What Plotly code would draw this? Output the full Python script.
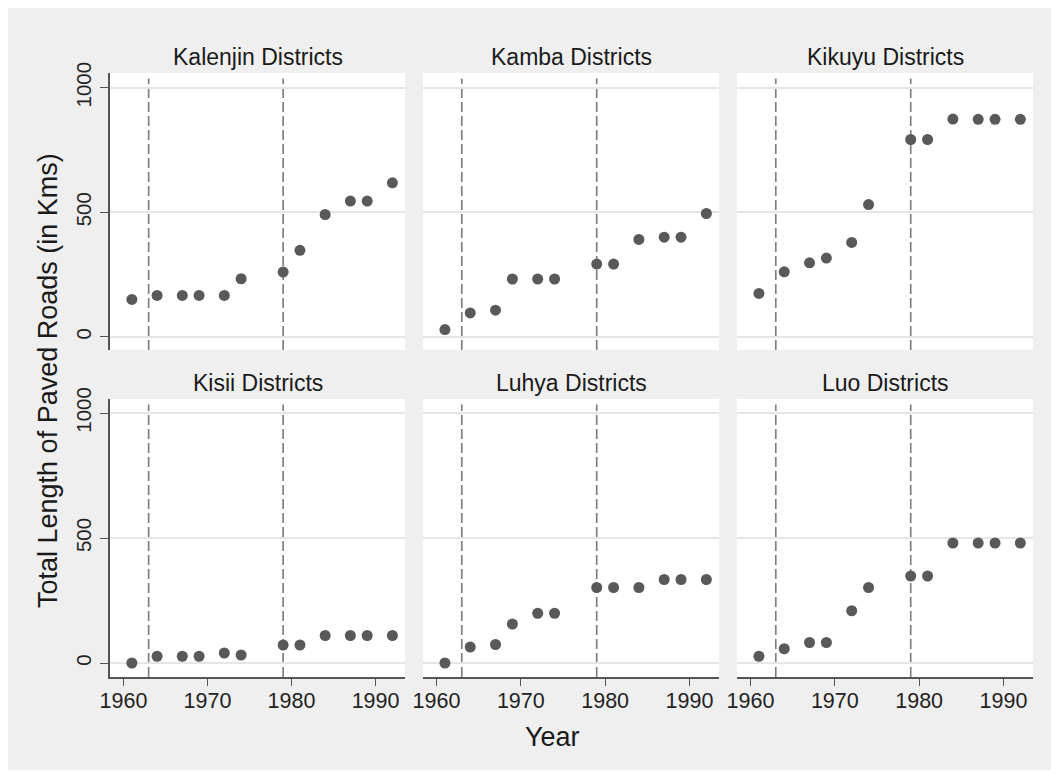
import plotly.graph_objects as go

years = [1961, 1964, 1967, 1969, 1972, 1974, 1979, 1981, 1984, 1987, 1989, 1992]
break_years = [1963, 1979]

groups = ["Kalenjin Districts", "Kamba Districts", "Kikuyu Districts",
          "Kisii Districts", "Luhya Districts", "Luo Districts"]

kalenjin = [150, 166, 166, 166, 166, 233, 260, 347, 491, 545, 545, 618]
kamba = [29, 96, 107, 232, 232, 232, 292, 292, 391, 400, 400, 495]
kikuyu = [174, 261, 297, 316, 379, 531, 792, 792, 874, 873, 873, 873]
kisii = [0, 27, 27, 27, 40, 32, 72, 72, 110, 110, 110, 110]
luhya = [0, 64, 74, 156, 199, 199, 302, 302, 302, 334, 334, 334]
luo = [27, 57, 82, 82, 209, 302, 348, 348, 480, 480, 480, 480]

series = [kalenjin, kamba, kikuyu, kisii, luhya, luo]

x_ticks = [1960, 1970, 1980, 1990]
y_ticks = [0, 500, 1000]

FONT = "Liberation Sans, Arial, sans-serif"
OFF = 8  # page body margin
W, H = 1051, 762
# screen-space layout (reference pixels), converted by subtracting OFF
col_px = [(110, 405), (423, 719), (737, 1033)]
row_px = [(73, 350), (399, 677)]
ML = col_px[0][0] - OFF
MR = W - (col_px[2][1] - OFF)
MT = row_px[0][0] - OFF
MB = H - (row_px[1][1] - OFF)
PW, PH = W - ML - MR, H - MT - MB


def px_x(sx):
    return (sx - OFF - ML) / PW


def px_y(sy):
    return (H - MB - (sy - OFF)) / PH


fig = go.Figure()
layout = {}
for i, (name, vals) in enumerate(zip(groups, series)):
    r, c = divmod(i, 3)
    n = i + 1
    xa = "x" if n == 1 else f"x{n}"
    ya = "y" if n == 1 else f"y{n}"
    fig.add_trace(go.Scatter(
        x=years, y=vals, mode="markers", xaxis=xa, yaxis=ya,
        marker=dict(size=11, color="#595959"), showlegend=False,
        hoverinfo="x+y"))
    xkey = "xaxis" if n == 1 else f"xaxis{n}"
    ykey = "yaxis" if n == 1 else f"yaxis{n}"
    bottom = r == 1
    left = c == 0
    layout[xkey] = dict(
        domain=[px_x(col_px[c][0]), px_x(col_px[c][1])], anchor=ya,
        range=[1958.4, 1993.5],
        tickvals=x_ticks, showgrid=False, zeroline=False,
        showticklabels=bottom, ticks="outside" if bottom else "",
        ticklen=7, tickwidth=1.3, tickcolor="#555555",
        showline=bottom, linecolor="#555555", linewidth=1.5,
        tickfont=dict(size=21.5, color="#222222", family=FONT),
        ticklabelstandoff=-4)
    yr = [-53, 1059] if r == 0 else [-56, 1056]
    layout[ykey] = dict(
        domain=[px_y(row_px[r][1]), px_y(row_px[r][0])], anchor=xa, range=yr,
        tickvals=y_ticks, showgrid=True, gridcolor="#e6e6e6", gridwidth=1.5,
        zeroline=False, showticklabels=left,
        ticks="outside" if left else "", ticklen=8, tickwidth=1.3,
        tickcolor="#555555", showline=left, linecolor="#555555",
        linewidth=1.5, tickangle=-90,
        tickfont=dict(size=20.5, color="#222222", family=FONT),
        ticklabelstandoff=1)
    for by in break_years:
        fig.add_shape(type="line", xref=xa, yref=f"{ya} domain",
                      x0=by, x1=by, y0=0, y1=0.98, layer="below",
                      line=dict(color="#808080", width=1.7, dash="10px,4px"))
    title_y = 57 if r == 0 else 383
    cx = px_x(sum(col_px[c]) / 2)
    fig.add_annotation(text=name, x=cx, y=px_y(title_y),
                       xref="paper", yref="paper", showarrow=False,
                       xanchor="center", yanchor="middle",
                       font=dict(size=23, color="#1a1a1a", family=FONT))

fig.add_annotation(text="Total Length of Paved Roads (in Kms)",
                   x=px_x(48), y=px_y(381),
                   xref="paper", yref="paper", showarrow=False,
                   textangle=-90, xanchor="center", yanchor="middle",
                   font=dict(size=27, color="#1a1a1a", family=FONT))
fig.add_annotation(text="Year", x=px_x(552), y=px_y(737),
                   xref="paper", yref="paper", showarrow=False,
                   xanchor="center", yanchor="middle",
                   font=dict(size=27, color="#1a1a1a", family=FONT))

fig.update_layout(
    width=W, height=H,
    margin=dict(l=ML, r=MR, t=MT, b=MB),
    paper_bgcolor="#efefef", plot_bgcolor="#ffffff",
    font=dict(family=FONT),
    **layout)

fig.write_html("out.html")
